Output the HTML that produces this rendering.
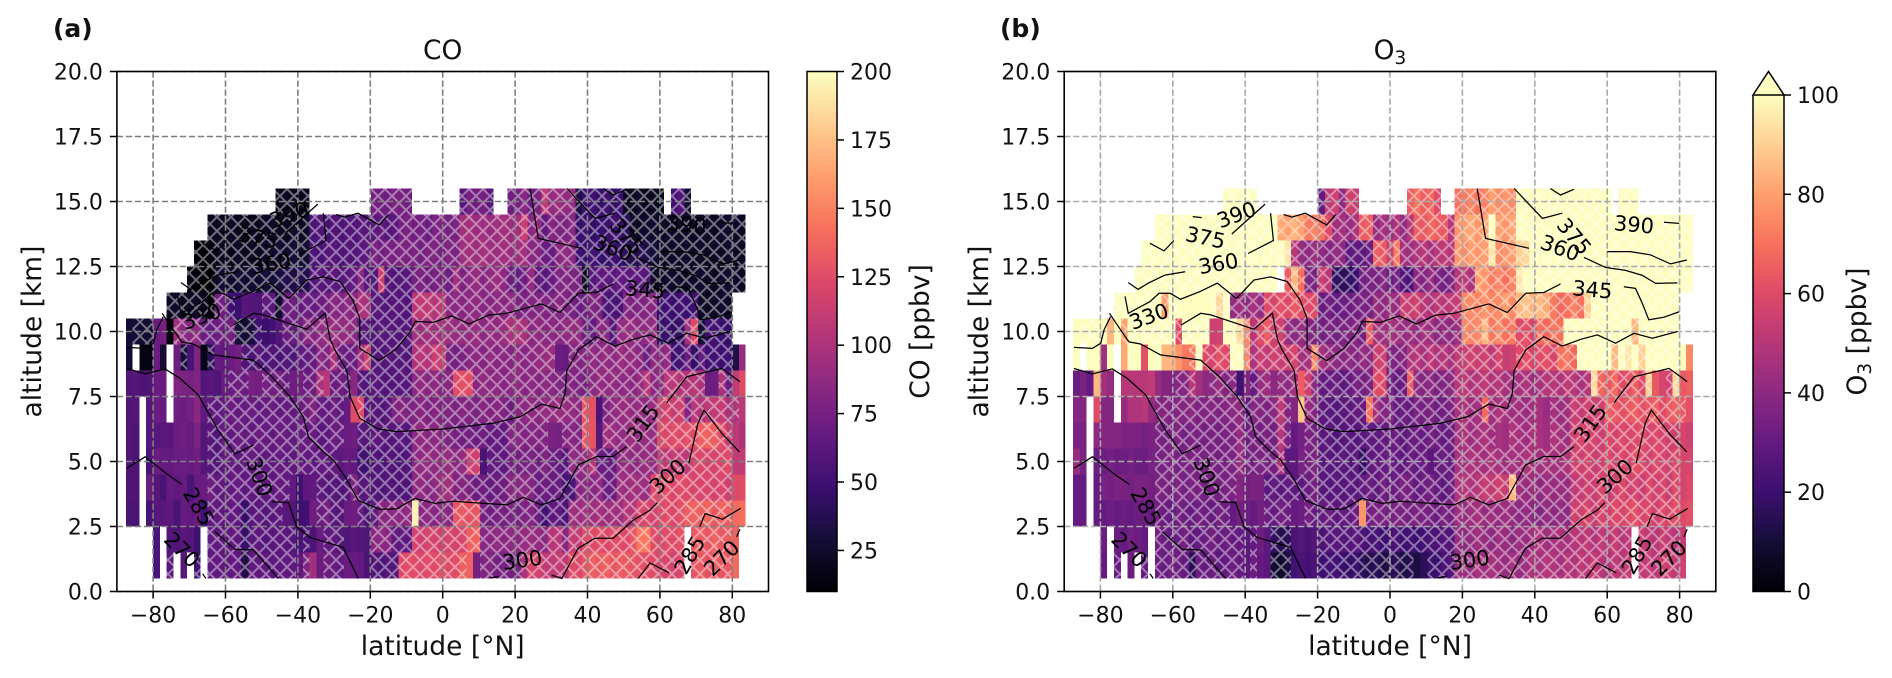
<!DOCTYPE html>
<html lang="en">
<head>
<meta charset="utf-8">
<title>CO and O3 latitude-altitude sections</title>
<style>
html,body{margin:0;padding:0;background:#fff;width:1892px;height:678px;overflow:hidden}
svg{display:block}
text{font-family:"DejaVu Sans","Liberation Sans",sans-serif;fill:#111}
.tick{font-size:22px}
.lab{font-size:26.5px}
.clab{font-size:21px}
</style>
</head>
<body>
<svg id="fig" xmlns="http://www.w3.org/2000/svg" width="1892" height="678" viewBox="0 0 1892 678">
<defs>
<pattern id="hatch" patternUnits="userSpaceOnUse" width="14" height="14">
<path d="M0 0L14 14M0 14L14 0" stroke="#fff" stroke-opacity="0.42" stroke-width="1.9" fill="none"/>
</pattern>
</defs>
<g id="panel-a"></g>
<g id="panel-b"></g>
<g id="cb-a"></g>
<g id="cb-b"></g>
<text x="53" y="37" font-size="25" font-weight="bold">(a)</text>
<text x="1000" y="37" font-size="25" font-weight="bold">(b)</text>
<text x="442.7" y="59" class="lab" text-anchor="middle">CO</text>
<text x="1390" y="59" class="lab" text-anchor="middle">O<tspan font-size="18.5" dy="5">3</tspan></text>
<text x="442.7" y="655" class="lab" text-anchor="middle">latitude [°N]</text>
<text x="1390" y="655" class="lab" text-anchor="middle">latitude [°N]</text>
<text transform="translate(41,331.5) rotate(-90)" class="lab" text-anchor="middle">altitude [km]</text>
<text transform="translate(988,331.5) rotate(-90)" class="lab" text-anchor="middle">altitude [km]</text>
<text transform="translate(929,331.5) rotate(-90)" class="lab" text-anchor="middle">CO [ppbv]</text>
<text transform="translate(1866,331.5) rotate(-90)" class="lab" text-anchor="middle">O<tspan font-size="18.5" dy="5">3</tspan><tspan dy="-5"> [ppbv]</tspan></text>
</svg>
<script>
const _ = null;
/* category ticks */
const xTicks = [-80,-60,-40,-20,0,20,40,60,80];
const yTicks = [0,2.5,5,7.5,10,12.5,15,17.5,20];
const yTickLabels = ["0.0","2.5","5.0","7.5","10.0","12.5","15.0","17.5","20.0"];
const coBarTicks = [25,50,75,100,125,150,175,200];
const o3BarTicks = [0,20,40,60,80,100];

/* CO [ppbv] by altitude row (km), one value per latitude bin */
const co15=[_,_,_,_,_,_,_,_,_,_, _,_,_,_,_,_,_,_,_,_, _,_,18,20,22,18,20,_,_,_, _,_,_,_,_,_,75,72,72,78, 75,72,_,_,_,_,_,_,_,62, 75,72,75,62,_,_,72,75,85,70, 78,110,90,92,88,90,35,48,50,45, 50,42,48,22,20,24,18,22,18,_, 50,58,28,_,_,_,_,_,_,_,_];
const co14=[_,_,_,_,_,_,_,_,_,_, _,_,20,22,18,22,20,18,22,20, 22,24,22,20,26,22,24,55,58,52, 58,55,60,58,62,60,62,66,60,62, 75,78,72,75,70,78,80,74,78,95, 98,92,95,90,95,96,92,95,115,85, 88,65,82,80,78,84,46,50,44,48, 46,50,44,42,24,22,26,24,22,24, 22,25,24,22,25,24,22,25,26,24,22];
const co13=[_,_,_,_,_,_,_,_,_,_, 12,10,14,20,22,18,24,20,22,20, 24,26,28,26,30,26,28,58,55,60, 62,56,60,58,62,66,78,72,78,76, 80,76,78,74,80,78,76,80,78,95, 96,92,98,94,92,96,90,94,96,85, 82,70,68,85,88,84,50,46,52,48, 44,50,46,40,36,38,34,30,24,22, 24,22,26,22,24,20,24,22,26,24,22];
const co12=[_,_,_,_,_,_,_,_,_,13, 14,10,10,26,28,24,28,26,28,25, 30,28,32,36,34,38,36,60,62,58, 64,60,62,66,85,62,60,115,60,58, 60,62,74,78,72,76,78,72,95,78, 86,90,84,88,92,86,70,68,72,88, 65,62,68,80,82,78,76,22,60,64, 66,62,68,64,66,62,60,24,22,26, 24,26,22,24,26,24,22,25,26,24,22];
const co11=[_,_,_,_,_,_,22,24,20,22, 24,20,12,75,72,50,48,62,60,58, 65,62,25,70,72,66,72,68,70,74, 85,82,86,84,100,98,62,60,58,62, 60,58,105,110,108,104,106,84,86,84, 86,88,84,82,86,84,88,80,78,82, 80,82,78,84,80,76,70,72,80,78, 55,56,54,82,78,80,82,84,48,50, 46,52,48,50,25,22,24,26,22,_,_];
const co10=[28,30,26,28,70,75,15,95,85,84, 86,70,65,72,70,75,30,28,32,50, 48,52,60,70,68,72,85,82,88,90, 92,88,90,86,62,60,58,62,60,60, 58,62,95,92,96,94,98,92,90,90, 88,92,86,90,88,92,100,102,98,85, 88,84,86,82,88,90,88,72,68,85, 84,60,88,92,90,86,88,90,45,48, 44,46,95,125,30,50,52,48,45,_,_];
const co9=[30,_,15,16,70,28,_,70,30,55, 80,18,40,68,66,70,75,58,56,60, 56,58,54,60,56,65,66,68,85,80, 100,72,68,70,95,115,60,58,62,60, 60,58,100,105,102,115,112,76,74,78, 84,86,82,88,84,86,82,88,84,86, 88,90,92,70,68,82,80,84,88,86, 90,86,92,88,90,85,70,86,85,88, 50,52,70,45,65,50,52,48,50,35,90];
const co8=[58,60,56,58,70,70,_,80,78,76, 80,60,62,58,68,70,72,70,76,74, 75,72,74,70,72,74,70,72,100,105, 70,72,68,85,60,58,62,60,58,60, 62,60,85,88,84,86,82,84,125,127, 125,84,88,84,86,82,86,88,84,86, 82,86,84,80,78,82,80,75,86,90, 88,90,86,88,84,90,105,85,88,105, 108,104,102,106,100,70,72,100,70,110,125];
const co7=[58,60,_,62,70,68,_,72,70,74, 85,65,66,64,68,70,66,68,70,66, 68,70,66,68,66,70,72,80,68,66, 70,66,68,125,125,62,60,58,62,80, 82,78,80,84,78,82,80,80,78,82, 80,78,82,80,84,80,70,84,86,88, 84,90,88,92,90,88,86,130,128,56, 80,88,90,92,88,90,86,92,115,118, 112,116,80,105,102,108,110,112,100,102,106];
const co6=[58,56,_,60,62,62,62,70,72,68, 78,60,62,58,68,66,70,68,66,70, 68,66,70,68,66,70,68,70,62,64, 70,68,70,72,62,60,64,62,60,62, 64,60,85,88,84,86,82,78,76,72, 74,70,72,66,68,64,82,84,80,82, 80,82,78,76,82,84,80,130,130,60, 95,92,88,90,94,88,92,90,125,122, 126,124,128,125,135,136,134,125,112,108,100];
const co5=[58,56,_,55,70,68,66,70,70,68, 72,60,62,58,66,68,64,66,68,64, 66,64,68,66,64,68,66,64,66,68, 66,64,68,66,50,50,58,56,60,58, 56,60,85,88,90,86,88,90,85,88, 115,116,55,65,66,64,75,74,76,78, 72,80,70,68,60,88,86,90,105,70, 70,68,88,90,86,88,92,88,110,108, 112,110,108,120,122,118,120,122,124,110,110];
const co4=[58,58,_,70,60,55,68,66,68,55, 68,70,72,66,64,66,68,64,66,64, 66,64,68,66,66,50,64,66,64,60, 62,58,60,80,60,62,58,56,60,58, 56,58,85,88,84,86,95,96,80,82, 78,70,72,68,70,72,85,84,86,82, 70,72,68,70,55,56,85,86,84,88, 70,70,95,92,96,94,92,125,124,126, 122,126,124,120,120,122,118,122,115,125,126];
const co3=[55,55,_,55,62,62,64,55,68,66, 70,50,65,66,64,66,64,45,62,64, 60,62,64,62,60,50,50,72,70,74, 62,60,70,72,68,55,65,85,84,86, 85,88,195,84,86,82,86,84,130,132, 128,130,75,72,76,74,78,74,80,82, 70,50,64,66,55,95,92,96,94,98, 92,96,94,105,104,120,122,118,124,126, 122,128,135,136,134,138,132,136,134,140,142];
const co2=[_,_,_,_,55,_,60,58,62,60, 50,_,65,66,64,66,64,45,62,64, 60,62,64,62,60,55,55,56,70,65, 66,60,58,62,60,58,85,86,84,65, 66,64,118,116,120,118,116,120,118,120, 135,136,85,84,88,84,86,85,90,92, 88,85,104,106,84,112,110,125,124,126, 122,126,125,124,130,145,146,125,122,126, 124,128,_,132,134,130,136,132,134,136,_];
const co1=[_,_,_,_,55,_,62,_,62,_, 50,_,65,66,64,66,64,35,66,64, 66,62,64,66,64,66,80,95,70,72, 68,66,70,68,66,55,58,56,60,58, 124,126,125,122,126,124,128,125,126,135, 136,75,80,82,74,76,74,76,100,120, 118,110,108,112,110,125,122,130,134,132, 136,130,134,132,130,128,126,125,122,120, 118,122,_,130,132,128,134,130,132,140,_];

/* O3 [ppbv] by altitude row (km), one value per latitude bin */
const o15=[_,_,_,_,_,_,_,_,_,_, _,_,_,_,_,_,_,_,_,_, _,_,110,110,110,110,110,_,_,_, _,_,_,_,_,_,30,52,55,40, 56,54,_,_,_,_,_,_,_,65, 70,66,68,60,_,_,70,72,74,70, 74,80,76,78,76,110,110,110,110,110, 110,110,110,110,110,110,110,110,110,_, 110,110,110,_,_,_,_,_,_,_,_];
const o14=[_,_,_,_,_,_,_,_,_,_, _,_,110,110,110,110,110,110,110,110, 110,110,110,110,110,110,110,110,110,110, 82,80,84,80,72,74,70,60,44,46, 42,48,65,66,42,46,44,48,42,50, 66,64,68,66,64,50,78,80,82,78, 82,100,80,78,82,110,110,110,110,110, 110,110,110,110,110,110,110,110,110,110, 110,110,110,110,110,110,110,110,110,110,110];
const o13=[_,_,_,_,_,_,_,_,_,_, 110,110,110,110,110,110,110,110,110,110, 110,110,110,110,110,110,110,110,110,110, 110,95,50,42,40,44,40,38,42,40, 28,30,28,32,66,64,55,72,46,44, 48,50,46,50,52,50,78,76,80,78, 80,95,76,78,80,90,92,110,110,110, 110,110,110,110,110,110,110,110,110,110, 110,110,110,110,110,110,110,110,110,110,110];
const o12=[_,_,_,_,_,_,_,_,_,110, 110,110,110,110,110,110,110,110,110,110, 110,110,110,110,110,110,110,110,110,110, _,65,85,70,36,36,55,50,18,16, 18,20,34,36,35,38,32,36,26,24, 40,38,42,36,34,36,50,52,48,80, 78,72,76,70,74,95,100,110,110,110, 110,110,110,110,110,110,110,110,110,110, 110,110,110,110,110,110,110,110,110,110,110];
const o11=[_,_,_,_,_,_,110,110,110,110, 110,110,110,80,110,110,110,110,110,110, 110,92,110,42,44,40,46,42,60,58, 62,60,64,62,60,60,30,34,30,32, 32,34,36,34,42,40,44,42,55,54, 56,50,48,52,50,52,54,75,76,74, 78,74,76,80,76,85,88,84,86,82, 72,68,70,74,70,90,105,110,110,110, 110,110,110,110,110,110,110,110,110,_,_];
const o10=[110,110,110,110,110,85,110,80,110,110, 110,110,110,110,110,60,110,110,110,110, 55,56,110,110,92,75,50,60,65,55, 56,42,40,42,38,36,34,36,34,36, 36,38,34,65,46,44,46,44,42,44, 42,46,44,40,42,40,44,75,74,76, 85,72,76,70,72,60,62,58,70,68, 72,70,100,105,108,110,110,110,110,110, 110,110,85,110,110,110,110,110,110,_,_];
const o9=[110,_,110,110,45,110,_,82,110,110, 62,110,110,85,85,78,72,72,100,60, 58,62,60,110,110,75,48,55,52,56, 54,55,58,45,46,75,46,42,40,38, 40,38,42,40,55,56,38,36,38,48, 50,46,52,48,50,46,52,55,56,54, 56,52,58,54,56,60,62,58,60,62, 58,70,72,68,100,105,110,110,110,85, 110,95,110,90,110,110,110,105,110,110,75];
const o8=[32,35,30,85,45,42,_,50,50,50, 50,52,42,38,38,38,38,50,45,40, 40,42,38,40,22,38,30,42,44,40, 42,40,45,65,55,40,30,30,32,28, 30,35,34,36,60,60,35,30,32,65, 40,38,40,36,38,40,50,52,48,50, 52,48,50,46,44,46,48,44,46,50, 50,48,52,50,46,50,92,68,64,68, 60,62,66,60,90,64,58,56,92,64,66];
const o7=[38,38,_,60,38,38,_,42,48,48, 50,42,38,38,36,38,38,40,36,38, 38,36,38,40,40,30,38,38,36,40, 52,38,38,88,42,38,28,28,26,28, 28,30,30,70,45,38,38,30,32,30, 36,34,36,32,34,36,46,48,44,46, 68,44,48,46,44,45,43,45,46,43, 45,43,45,55,53,56,56,55,66,64, 62,64,66,62,64,66,60,64,66,64,62];
const o6=[35,35,_,40,38,38,38,36,36,36, 34,36,36,34,36,36,34,36,36,34, 36,34,36,36,42,32,36,34,36,34, 50,35,30,34,36,34,28,28,25,26, 28,26,28,30,28,30,30,32,28,32, 32,30,34,32,30,32,46,48,44,46, 48,44,46,44,48,46,44,48,46,44, 48,46,44,56,58,56,58,54,60,58, 60,58,60,62,58,60,58,56,56,58,56];
const o5=[42,35,_,32,32,34,32,32,34,32, 32,35,34,35,36,34,35,36,34,35, 36,34,35,36,42,35,34,36,35,34, 48,28,28,35,34,36,27,27,26,28, 26,28,18,28,30,30,32,30,28,32, 30,32,28,30,32,30,46,45,48,46, 45,48,46,44,46,45,48,46,45,46, 46,45,48,56,56,58,54,56,60,56, 60,58,62,60,56,60,58,56,60,58,58];
const o4=[30,30,_,30,35,34,36,35,34,36, 35,34,36,35,34,36,34,36,35,34, 36,34,35,36,38,34,36,35,28,30, 28,30,28,28,32,34,27,26,28,26, 28,27,30,32,28,34,30,32,36,34, 30,32,34,30,28,32,48,50,48,50, 54,52,56,54,85,44,42,44,40,44, 42,44,42,52,54,56,54,58,54,56, 60,56,58,54,60,56,58,54,60,58,60];
const o3=[30,30,_,30,30,32,30,32,30,32, 32,30,34,32,30,34,32,30,34,32, 30,34,32,30,34,32,30,34,32,30, 34,32,30,32,34,30,30,32,28,30, 30,32,78,34,36,35,34,36,35,34, 36,35,34,32,36,34,44,42,44,46, 42,44,42,44,42,40,42,40,38,42, 40,42,40,56,56,58,54,58,56,60, 58,60,62,58,60,56,60,58,62,60,62];
const o2=[_,_,_,_,32,_,32,30,34,32, 30,_,34,32,30,32,34,28,30,32, 34,30,32,30,30,28,30,32,28,18, 14,16,24,26,24,26,24,26,28,26, 26,28,24,22,24,20,22,24,20,22, 20,22,24,24,26,26,42,40,42,44, 42,40,44,42,40,44,42,46,48,44, 46,48,46,50,50,52,48,52,50,54, 50,52,_,54,52,50,54,52,50,54,_];
const o1=[_,_,_,_,30,_,30,_,32,_, 30,_,32,30,34,32,30,15,32,30, 32,28,30,32,30,28,32,30,28,10, 8,12,22,24,22,24,20,22,22,20, 18,20,16,14,16,12,14,16,12,14, 12,16,20,20,24,26,42,44,42,46, 44,46,44,42,46,42,44,48,46,50, 48,46,50,48,52,50,54,50,48,52, 50,54,_,52,54,50,56,54,52,56,_];

const rowAltitudes = [15,14,13,12,11,10,9,8,7,6,5,4,3,2,1];
const coRows = [co15,co14,co13,co12,co11,co10,co9,co8,co7,co6,co5,co4,co3,co2,co1];
const o3Rows = [o15,o14,o13,o12,o11,o10,o9,o8,o7,o6,o5,o4,o3,o2,o1];

/* significance hatching: latitude-bin index ranges for each altitude row */
const hatch15=[[22,26],[36,41],[49,53],[56,78],[80,82]];
const hatch14=[[12,90]];
const hatch13=[[10,90]];
const hatch12=[[9,90]];
const hatch11=[[6,15],[20,88]];
const hatch10=[[1,3],[7,19],[23,88]];
const hatch9=[[8,8],[12,12],[17,62],[65,88]];
const hatch8=[[15,17],[20,23],[26,28],[30,32],[34,84],[87,88]];
const hatch7=[[12,31],[34,67],[70,89]];
const hatch6=[[12,31],[34,61],[64,67],[70,88]];
const hatch5=[[12,30],[34,51],[53,88]];
const hatch4=[[12,23],[28,88]];
const hatch3=[[12,22],[28,31],[34,41],[43,88]];
const hatch2=[[12,24],[26,26],[29,31],[36,81],[83,88]];
const hatch1=[[6,6],[10,10],[12,24],[26,26],[29,31],[36,49],[52,81],[83,88]];
const hatchRows=[hatch15,hatch14,hatch13,hatch12,hatch11,hatch10,hatch9,hatch8,hatch7,hatch6,hatch5,hatch4,hatch3,hatch2,hatch1];

/* potential temperature contours: [latitude, altitude] */
const theta270=[[[-66.3,.68],[-65.4,.5]],[[81.2,2.1],[82.1,2.4]]];
const theta285=[[[-87.3,4.74],[-82.2,5.18],[-75.8,4.48],[-72.1,4.13]],[[-62.9,2.3],[-57.4,1.62],[-52.3,1.6],[-45.4,.5]],[[54,.5],[57.3,1.1],[62.5,.72]],[[71,2.49],[72.5,3],[77.3,2.78],[82.3,3.2]]];
const theta300=[[[-87.3,8.58],[-82.2,8.37],[-76.7,8.56],[-72.6,8.2],[-67.5,7.56],[-65.2,6.98],[-62,6.2],[-57.4,5.29],[-52.3,5.63]],[[-47.2,3.45],[-42.6,3.42],[-40.3,2.49],[-36.7,2.08],[-27.5,1.7],[-23.3,.5]],[[13,.52],[15.5,.58]],[[30.1,.63],[32.9,.5],[37.4,1.66],[42.1,2.05],[47.1,2.05],[52.7,2.75],[57.3,3.13],[59.3,3.42]],[[68,4.93],[70.5,6.47],[72.2,6.98],[77.3,6.05],[82,5.37]]];
const theta315=[[[-77.5,10.7],[-74.4,10.06],[-72.1,9.6],[-68.9,9.52],[-63.4,9.1],[-52.3,8.9],[-47.2,8.26],[-42.2,7.49],[-38.5,6.72],[-37.1,5.95],[-33,5.38],[-30.2,5.06],[-27,4.42],[-23.3,3.5],[-17.3,3.16],[-12.7,3.18],[-7.7,3.58],[-2.1,3.39],[2.9,3.47],[17.7,3.33],[22.3,3.62],[27.3,3.33],[32.4,3.58],[37.5,4.87],[42.5,5.19],[47.1,5.19],[50.8,5.57]],[[61.9,7.26],[67.4,8.26],[77.1,8.58],[82.1,8.07]]];
const theta330=[[[-87.3,9.39],[-82.2,9.35],[-79.9,9.55],[-79,10.06],[-77.2,10.57]],[[-57.8,10.24],[-52.3,10.7],[-49.5,10.64],[-37.6,10.09],[-32.5,10.7],[-31.1,9.7],[-29.8,9.3],[-26.5,8.5],[-25.6,7.5],[-22.9,6.66],[-17.8,6.25],[-12.7,6.15],[.2,6.25],[13.9,6.47],[21.4,6.72],[27.3,7.21],[32.4,7.04],[33.8,7.62],[34.3,8.5],[37.5,9.29],[42.5,9.8],[47.6,9.44],[52.7,9.7],[57.3,9.87],[62.3,9.55],[67.4,9.93],[72.5,9.74],[79.4,10]]];
const theta345=[[[-73.2,11.35],[-72.3,10.7],[-66.3,11.15],[-63.8,11.47],[-60.7,11.47],[-57.9,11.24],[-52.4,11.54],[-47.7,11.86],[-42.4,11.27],[-37.6,11.98],[-33,12.1],[-28.4,11.92],[-24.8,11.2],[-22.9,10.5],[-22.9,9.35],[-17.5,8.88],[-12.7,9.35],[-9,9.99],[-7.6,10.39],[-2.6,10.35],[2.5,10.6],[7.3,10.29],[12.6,10.63],[17.7,10.7],[27.3,11.06],[32.4,10.73],[37.5,11.47],[42.5,11.5],[47.1,11.83]],[[64.6,11.72],[67.8,11.66],[69.7,11.08],[71.5,10.45],[75.7,10.55],[79.9,10.76]]];
const theta360=[[[-72.3,11.88],[-69.6,11.62],[-66.8,11.86],[-62.2,12.17],[-56.6,12.3]],[[-39.2,13],[-32.2,13.5],[-33,14.55]],[[24.1,15.5],[26.4,13.58],[38.4,13.2]],[[53.6,12.85],[59.6,12.46],[65.1,12.35],[69.7,12.16],[73.4,11.85],[79.4,11.87]]];
const theta375=[[[-66.3,13.39],[-62.4,13.1],[-59.7,13.5]],[[-43.7,13.75],[-34.5,14.9]],[[-54.5,14.42],[-52,14.38]],[[-29.4,14.5],[-27.1,14.4],[-23.4,14.55],[-17.5,14.1],[-15,14.5]],[[34.3,15.5],[42.1,14.35],[47.6,14.55]],[[60,13.07],[66.4,13.07],[71.9,12.95],[77.5,12.6],[82,12.75]]];
const theta390=[[[44.3,15.5],[47.1,15.25],[50.8,15.47]],[[75.7,14.2],[79.9,14.16]]];
const contourLevels=[theta270,theta285,theta300,theta315,theta330,theta345,theta360,theta375,theta390];

/* printed contour labels */
const labelTexts=["270","285","300","315","330","345","360","375","390","300","285","270","300","360","375","390"];
const labelLats=[-72.1,-67.5,-50.7,55.4,-66.6,55.9,-47.4,-51,-42.4,22,68.3,77.1,62.2,47,50.8,67.4];
const labelAlts=[1.6,3.26,4.4,6.47,10.57,11.6,12.6,13.6,14.48,1.2,1.4,1.28,4.42,13.2,13.65,14.1];
const labelAngles=[45,60,70,-55,-20,5,-10,12,-20,-8,-60,-45,-42,20,50,5];

const NS='http://www.w3.org/2000/svg';
const magmaStops=[[0,0,4],[20,14,54],[59,15,112],[100,26,128],[140,41,129],[183,55,121],[222,73,104],[247,112,92],[254,159,109],[254,207,146],[252,253,191]];
function magma(t){
  t=Math.max(0,Math.min(1,t))*10;
  const k=Math.min(9,Math.floor(t)),f=t-k,a=magmaStops[k],b=magmaStops[k+1];
  return 'rgb('+Math.round(a[0]+(b[0]-a[0])*f)+','+Math.round(a[1]+(b[1]-a[1])*f)+','+Math.round(a[2]+(b[2]-a[2])*f)+')';
}
function mk(tag,attrs,parent){
  const el=document.createElementNS(NS,tag);
  for(const k in attrs){el.setAttribute(k,attrs[k]);}
  parent.appendChild(el);
  return el;
}
const plotTop=71.5,plotBottom=591.5,plotWidth=651.6;
const yAxis=function(alt){return plotBottom-(alt/20)*(plotBottom-plotTop);};
const binStart=-87.55,binStep=1.882;

function drawPanel(root,left,rows,vmin,vmax,gridColor,prefix){
  const xAxis=function(lat){return left+(lat+90)/180*plotWidth;};
  const cells=mk('g',{'shape-rendering':'crispEdges'},root);
  
  
  rows.forEach(function(row,r){
    const alt=rowAltitudes[r];
    row.forEach(function(v,i){
      if(v===null||v===undefined){return;}
      const x1=xAxis(binStart+i*binStep),x2=xAxis(binStart+(i+1)*binStep);
      const rect=mk('rect',{x:x1,y:yAxis(alt+.5),width:x2-x1,height:yAxis(alt-.5)-yAxis(alt+.5),fill:magma((v-vmin)/(vmax-vmin))},cells);
      
      
    });
  });
  const hatchLayer=mk('g',{'shape-rendering':'crispEdges'},root);
  
  
  hatchRows.forEach(function(spans,r){
    const alt=rowAltitudes[r];
    spans.forEach(function(s){
      const x1=xAxis(binStart+s[0]*binStep),x2=xAxis(binStart+(s[1]+1)*binStep);
      const rect=mk('rect',{x:x1,y:yAxis(alt+.5),width:x2-x1,height:yAxis(alt-.5)-yAxis(alt+.5),fill:'url(#hatch)'},hatchLayer);
      
      
    });
  });
  const grid=mk('g',{stroke:gridColor,'stroke-width':1.6,'stroke-dasharray':'6.2 2.8',fill:'none'},root);
  
  
  xTicks.forEach(function(t){mk('line',{x1:xAxis(t),x2:xAxis(t),y1:plotTop,y2:plotBottom},grid);});
  yTicks.forEach(function(t){mk('line',{x1:left,x2:left+plotWidth,y1:yAxis(t),y2:yAxis(t)},grid);});
  const contours=mk('g',{stroke:'#000','stroke-width':1.25,fill:'none'},root);
  
  
  contourLevels.forEach(function(level){
    level.forEach(function(seg){
      const line=mk('polyline',{points:seg.map(function(p){return xAxis(p[0])+','+yAxis(p[1]);}).join(' ')},contours);
      
      
    });
  });
  labelTexts.forEach(function(txt,k){
    const x=xAxis(labelLats[k]),y=yAxis(labelAlts[k]);
    const lab=mk('text',{class:'clab',x:0,y:0,'text-anchor':'middle','dominant-baseline':'central',transform:'translate('+x+','+y+') rotate('+labelAngles[k]+')',style:'fill:#000'},root);
    lab.textContent=txt;
    
    
  });
  const frame=mk('rect',{x:left,y:plotTop,width:plotWidth,height:plotBottom-plotTop,fill:'none',stroke:'#000','stroke-width':1.6},root);
  
  
  xTicks.forEach(function(t){
    const tk=mk('line',{x1:xAxis(t),x2:xAxis(t),y1:plotBottom,y2:plotBottom+7,stroke:'#000','stroke-width':1.5},root);
    
    
    const lab=mk('text',{class:'tick',x:xAxis(t),y:plotBottom+31,'text-anchor':'middle'},root);
    lab.textContent=(t<0?'\u2212'+(-t):String(t));
    
    
  });
  yTicks.forEach(function(t,k){
    const tk=mk('line',{x1:left-7,x2:left,y1:yAxis(t),y2:yAxis(t),stroke:'#000','stroke-width':1.5},root);
    
    
    const lab=mk('text',{class:'tick',x:left-14,y:yAxis(t)+8,'text-anchor':'end'},root);
    lab.textContent=yTickLabels[k];
    
    
  });
}

function drawBar(root,left,width,top,vmin,vmax,ticks,arrowTop){
  const scale=function(v){return plotBottom-(v-vmin)/(vmax-vmin)*(plotBottom-top);};
  const steps=256;
  const ramp=mk('g',{'shape-rendering':'crispEdges'},root);
  
  
  for(let s=0;s<steps;s++){
    const v1=vmin+(vmax-vmin)*s/steps,v2=vmin+(vmax-vmin)*(s+1)/steps;
    mk('rect',{x:left,y:scale(v2),width:width,height:scale(v1)-scale(v2)+.6,fill:magma((s+.5)/steps)},ramp);
  }
  if(arrowTop!==null){
    const tri=mk('polygon',{points:left+','+top+' '+(left+width/2)+','+arrowTop+' '+(left+width)+','+top,fill:magma(1),stroke:'#000','stroke-width':1.5},root);
    
    
    const outline=mk('polyline',{points:left+','+top+' '+left+','+plotBottom+' '+(left+width)+','+plotBottom+' '+(left+width)+','+top,fill:'none',stroke:'#000','stroke-width':1.5},root);
    
    
  }else{
    const outline=mk('rect',{x:left,y:top,width:width,height:plotBottom-top,fill:'none',stroke:'#000','stroke-width':1.5},root);
    
    
  }
  ticks.forEach(function(t){
    const tk=mk('line',{x1:left+width,x2:left+width+7,y1:scale(t),y2:scale(t),stroke:'#000','stroke-width':1.5},root);
    
    
    const lab=mk('text',{class:'tick',x:left+width+13,y:scale(t)+8},root);
    lab.textContent=String(t);
    
    
  });
}

drawPanel(document.getElementById('panel-a'),116.9,coRows,10,200,'#808080','co');
drawPanel(document.getElementById('panel-b'),1064.2,o3Rows,0,100,'#a9a9a9','o3');
drawBar(document.getElementById('cb-a'),807,30,71.5,10,200,coBarTicks,null);
drawBar(document.getElementById('cb-b'),1753,31,95,0,100,o3BarTicks,71.5);
</script>
</body>
</html>
